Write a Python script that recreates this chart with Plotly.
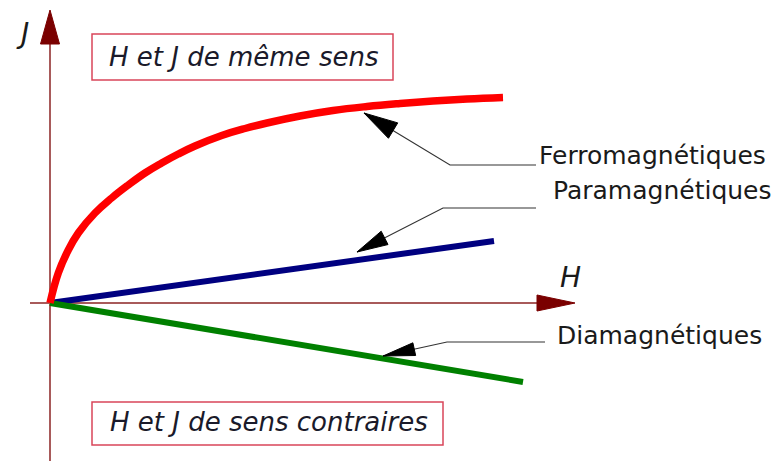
import numpy as np
import plotly.graph_objects as go

# ---- data (arbitrary units of H and J) ----
H_ferro = [0, 0.083, 0.183, 0.283, 0.45, 0.617, 0.783, 0.95, 1.117, 1.283, 1.45,
           1.717, 1.95, 2.17, 2.5, 2.83, 3.17, 3.5, 3.83, 4.17, 4.53]
J_ferro = [0, 0.30, 0.53, 0.70, 0.90, 1.05, 1.18, 1.30, 1.40, 1.49, 1.57,
           1.675, 1.745, 1.80, 1.87, 1.925, 1.965, 1.995, 2.02, 2.04, 2.055]
H_para = [0, 4.44]
J_para = [0, 0.62]
H_dia = [0, 4.73]
J_dia = [0, -0.79]

labels = ["Ferromagnétiques", "Paramagnétiques", "Diamagnétiques"]
box_texts = ["H et J de même sens", "H et J de sens contraires"]

FONT = "DejaVu Sans"
AXC = "#a85a5a"
HEADC = "#7a0000"

fig = go.Figure()


def tri(tip, tail, length, hw):
    tip = np.array(tip, float)
    d = np.array(tail, float) - tip
    d /= np.linalg.norm(d)
    n = np.array([-d[1], d[0]])
    base = tip + d * length
    p1 = base + n * hw
    p2 = base - n * hw
    xs = [tip[0], p1[0], p2[0], tip[0]]
    ys = [tip[1], p1[1], p2[1], tip[1]]
    return xs, ys


def add_tri(tip, tail, length, hw, color):
    xs, ys = tri(tip, tail, length, hw)
    fig.add_trace(go.Scatter(x=xs, y=ys, mode="lines", fill="toself",
                             fillcolor=color, line=dict(color=color, width=1),
                             hoverinfo="skip", showlegend=False))


# axes
x_end, y_end = 5.25, 2.93
fig.add_trace(go.Scatter(x=[-0.2, x_end - 0.36], y=[0, 0], mode="lines",
                         line=dict(color=AXC, width=2), showlegend=False, hoverinfo="skip"))
fig.add_trace(go.Scatter(x=[0, 0], y=[-1.7, y_end - 0.31], mode="lines",
                         line=dict(color=AXC, width=2), showlegend=False, hoverinfo="skip"))
add_tri((x_end, 0), (0, 0), 0.38, 0.08, HEADC)
add_tri((0, y_end), (0, 0), 0.34, 0.095, HEADC)

# curves
fig.add_trace(go.Scatter(x=H_para, y=J_para, mode="lines",
                         line=dict(color="#000080", width=6), showlegend=False))
fig.add_trace(go.Scatter(x=H_dia, y=J_dia, mode="lines",
                         line=dict(color="#008000", width=6), showlegend=False))
fig.add_trace(go.Scatter(x=H_ferro, y=J_ferro, mode="lines",
                         line=dict(color="#ff0000", width=7.5, shape="spline", smoothing=1.2),
                         showlegend=False))

# callouts: (text pos, leader start, elbow, tip, head length, head half-width)
callouts = [
    ((4.87, 1.48), (4.86, 1.38), (4.00, 1.38), (3.14, 1.90), 0.34, 0.09),
    ((5.01, 1.13), (4.86, 0.95), (3.93, 0.95), (3.07, 0.51), 0.31, 0.075),
    ((5.05, -0.32), (4.95, -0.39), (3.97, -0.39), (3.33, -0.53), 0.32, 0.065),
]
for lab, (tp, st, el, tip, L, hw) in zip(labels, callouts):
    fig.add_trace(go.Scatter(x=[st[0], el[0], tip[0]], y=[st[1], el[1], tip[1]],
                             mode="lines", line=dict(color="#333333", width=1.2),
                             showlegend=False, hoverinfo="skip"))
    add_tri(tip, el, L, hw, "#000000")
    fig.add_annotation(x=tp[0], y=tp[1], text=lab, showarrow=False,
                       xanchor="left", yanchor="middle",
                       font=dict(family=FONT, size=25, color="#1a1a1a"))

# boxes
boxes = [((0.42, 2.23, 3.43, 2.69), (1.93, 2.46)),
         ((0.42, -1.42, 3.93, -0.99), (2.19, -1.19))]
for txt, (rect, c) in zip(box_texts, boxes):
    fig.add_shape(type="rect", x0=rect[0], y0=rect[1], x1=rect[2], y1=rect[3],
                  line=dict(color="#d9455a", width=1.5), fillcolor="rgba(0,0,0,0)")
    fig.add_annotation(x=c[0], y=c[1], text="<i>" + txt + "</i>", showarrow=False,
                       xanchor="center", yanchor="middle",
                       font=dict(family=FONT, size=26, color="#1a1a2a"))

# axis labels
fig.add_annotation(x=-0.28, y=2.70, text="<i>J</i>", showarrow=False,
                   font=dict(family=FONT, size=28, color="#1a1a1a"))
fig.add_annotation(x=5.20, y=0.26, text="<i>H</i>", showarrow=False,
                   font=dict(family=FONT, size=28, color="#1a1a1a"))

# page body has an 8px margin: the figure covers window pixels 8..784 x 8..461
fig.update_layout(
    width=776, height=453,
    margin=dict(l=0, r=0, t=0, b=0),
    paper_bgcolor="white", plot_bgcolor="white",
    xaxis=dict(range=[-0.42, 7.34], visible=False, fixedrange=True),
    yaxis=dict(range=[-1.58, 2.95], visible=False, fixedrange=True),
    showlegend=False,
)

fig.write_html("out.html")
